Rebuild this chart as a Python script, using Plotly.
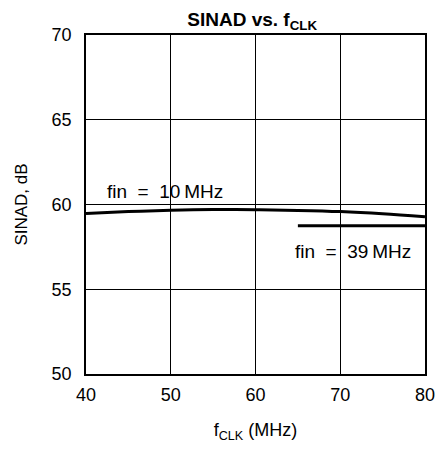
import plotly.graph_objects as go

# SINAD vs. clock frequency for two input frequencies
fclk_10 = [40, 45, 50, 55, 60, 65, 70, 75, 80]
sinad_10 = [59.47, 59.58, 59.66, 59.70, 59.69, 59.65, 59.58, 59.45, 59.27]

fclk_39 = [65, 80]
sinad_39 = [58.75, 58.75]

x_ticks = [40, 50, 60, 70, 80]
y_ticks = [50, 55, 60, 65, 70]

sans = "Liberation Sans"
nb = "\u00a0"  # non-breaking space keeps the wide gaps around "="

fig = go.Figure()
fig.add_trace(go.Scatter(x=fclk_10, y=sinad_10, mode="lines",
                         line=dict(color="black", width=3, shape="spline"),
                         showlegend=False))
fig.add_trace(go.Scatter(x=fclk_39, y=sinad_39, mode="lines",
                         line=dict(color="black", width=3),
                         showlegend=False))

fig.add_annotation(x=42.2, y=60.75, xref="x", yref="y",
                   text=f"fin{nb}{nb}={nb}{nb}10\u2009MHz",
                   showarrow=False, xanchor="left", yanchor="middle",
                   font=dict(family=sans, size=19, color="black"))
fig.add_annotation(x=64.4, y=57.25, xref="x", yref="y",
                   text=f"fin{nb}{nb}={nb}{nb}39\u2009MHz",
                   showarrow=False, xanchor="left", yanchor="middle",
                   font=dict(family=sans, size=19, color="black"))

fig.update_layout(
    width=437, height=454,
    margin=dict(l=86, r=12, t=35, b=80, autoexpand=False),
    paper_bgcolor="white", plot_bgcolor="white",
    title=dict(text="<b>SINAD vs. f<sub>CLK</sub></b>", x=0.577, xanchor="center",
               y=0.958, yanchor="middle",
               font=dict(family=sans, size=19, color="black")),
    xaxis=dict(range=[40, 80], tickvals=x_ticks, showgrid=True, gridcolor="black",
               gridwidth=1, showline=True, linecolor="black", linewidth=1.5, mirror=True,
               ticks="", zeroline=False, ticklabelstandoff=4, automargin=False,
               tickfont=dict(family=sans, size=18, color="black"),
               title=dict(text="f<sub>CLK</sub> (MHz)", standoff=19,
                          font=dict(family=sans, size=18, color="black"))),
    yaxis=dict(range=[50, 70], tickvals=y_ticks, showgrid=True, gridcolor="black",
               gridwidth=1, showline=True, linecolor="black", linewidth=1.5, mirror=True,
               ticks="", zeroline=False, ticklabelstandoff=9, automargin=False,
               tickfont=dict(family=sans, size=18, color="black"),
               title=dict(text="SINAD, dB", standoff=20,
                          font=dict(family=sans, size=17, color="black"))),
)

fig.write_html("out.html")
